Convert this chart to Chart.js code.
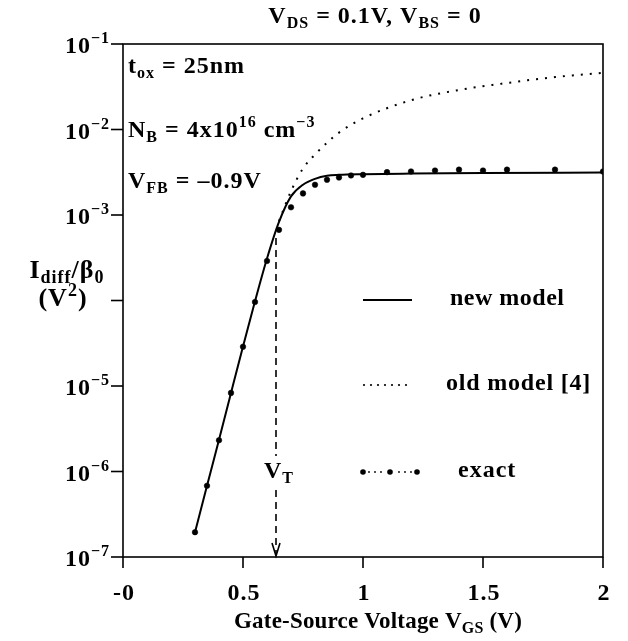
<!DOCTYPE html>
<html><head><meta charset="utf-8">
<script src="https://cdn.jsdelivr.net/npm/chart.js@4/dist/chart.umd.min.js"></script>
<style>html,body{margin:0;padding:0;background:#fff;}#wrap{width:628px;height:641px;}</style>
</head><body><div id="wrap"><canvas id="c" width="628" height="641"></canvas></div>
<script>
// ---- data ----
const newModelV = [0.3, 0.35, 0.4, 0.45, 0.5, 0.55, 0.6, 0.65, 0.7, 0.75, 0.8, 0.85, 0.9, 1.0, 1.2, 1.5, 2.0];
const newModelI = [1.95e-7, 6.8e-7, 2.35e-6, 8.3e-6, 2.9e-5, 9.8e-5, 3.1e-4, 8.3e-4, 1.65e-3, 2.26e-3, 2.65e-3, 2.88e-3, 2.95e-3, 3.0e-3, 3.05e-3, 3.1e-3, 3.14e-3];
const oldModelV = [0.65, 0.7, 0.75, 0.8, 0.85, 0.9, 1.0, 1.2, 1.4, 1.6, 1.8, 2.0];
const oldModelI = [8.5e-4, 1.9e-3, 3.5e-3, 5.1e-3, 7.0e-3, 9.2e-3, 1.35e-2, 2.2e-2, 2.9e-2, 3.5e-2, 4.1e-2, 4.6e-2];
const exactV = [0.3, 0.35, 0.4, 0.45, 0.5, 0.55, 0.6, 0.65, 0.7, 0.75, 0.8, 0.85, 0.9, 0.95, 1.0, 1.1, 1.2, 1.3, 1.4, 1.5, 1.6, 1.8, 2.0];
const exactI = [1.95e-7, 6.8e-7, 2.32e-6, 8.3e-6, 2.88e-5, 9.6e-5, 2.9e-4, 6.7e-4, 1.23e-3, 1.79e-3, 2.26e-3, 2.58e-3, 2.75e-3, 2.9e-3, 2.95e-3, 3.17e-3, 3.23e-3, 3.31e-3, 3.39e-3, 3.31e-3, 3.39e-3, 3.39e-3, 3.23e-3];
const xTickValues = [0, 0.5, 1, 1.5, 2];
const xTickLabels = ['-0', '0.5', '1', '1.5', '2'];
const yTickExponents = [-1, -2, -3, -4, -5, -6, -7];
const yTickLabelShown = [true, true, true, false, true, true, true];
const thresholdV = 0.6375;
const thresholdTopI = 5.4e-4;

const SERIF = '"Liberation Serif", "Times New Roman", serif';
const F = s => 'bold ' + s + 'px ' + SERIF;
const BIG = 24, SMALL = 16;

function drawRich(ctx, parts, x, y, align, ls) {
  ctx.textAlign = 'left'; ctx.textBaseline = 'alphabetic';
  ctx.letterSpacing = (ls === undefined ? 1 : ls) + 'px';
  let w = 0;
  parts.forEach(p => { ctx.font = F(p.s || BIG); w += ctx.measureText(p.t).width; });
  let sx = align === 'center' ? x - w / 2 : align === 'right' ? x - w : x;
  parts.forEach(p => {
    ctx.font = F(p.s || BIG);
    ctx.fillText(p.t, sx, y + (p.dy || 0));
    sx += ctx.measureText(p.t).width;
  });
  ctx.letterSpacing = '0px';
  return w;
}
const sub = (t, s) => ({ t: t, s: s || SMALL, dy: 5 });
const sup = (t, s) => ({ t: t, s: s || SMALL, dy: -10 });

const axesPlugin = {
  id: 'axesPlugin',
  afterDatasetsDraw(chart) {
    const ctx = chart.ctx, xs = chart.scales.x, ys = chart.scales.y;
    const x = xs.getPixelForValue(thresholdV);
    const yTop = ys.getPixelForValue(thresholdTopI);
    const yBot = ys.getPixelForValue(1e-7);
    ctx.save();
    ctx.strokeStyle = '#000'; ctx.lineWidth = 1.6;
    ctx.setLineDash([7, 5]);
    ctx.beginPath(); ctx.moveTo(x, yTop); ctx.lineTo(x, yBot - 2); ctx.stroke();
    ctx.setLineDash([]);
    ctx.beginPath(); ctx.moveTo(x - 4, yBot - 14); ctx.lineTo(x, yBot - 1); ctx.lineTo(x + 4, yBot - 14); ctx.stroke();
    ctx.fillStyle = '#fff';
    ctx.fillRect(x - 16, 456, 36, 30);
    ctx.fillStyle = '#000';
    drawRich(ctx, [{ t: 'V' }, sub('T')], x + 3, 478, 'center');
    ctx.restore();
  },
  afterDraw(chart) {
    const ctx = chart.ctx, a = chart.chartArea, xs = chart.scales.x, ys = chart.scales.y;
    ctx.save();
    ctx.strokeStyle = '#000'; ctx.fillStyle = '#000';
    ctx.lineWidth = 1.6;
    ctx.strokeRect(a.left, a.top, a.right - a.left, a.bottom - a.top);
    yTickExponents.forEach((e, i) => {
      const y = ys.getPixelForValue(Math.pow(10, e));
      ctx.beginPath(); ctx.moveTo(a.left - 12, y); ctx.lineTo(a.left, y); ctx.stroke();
      if (yTickLabelShown[i]) drawRich(ctx, [{ t: '10' }, sup('\u2212' + Math.abs(e))], 110, y + 9, 'right', 1);
    });
    xTickValues.forEach((v, i) => {
      const x = xs.getPixelForValue(v);
      ctx.beginPath(); ctx.moveTo(x, a.bottom); ctx.lineTo(x, a.bottom + 11); ctx.stroke();
      drawRich(ctx, [{ t: xTickLabels[i] }], x + 1, 600, 'center');
    });
    drawRich(ctx, [{ t: 'V' }, sub('DS'), { t: ' = 0.1V, V' }, sub('BS'), { t: ' = 0' }], 375, 23, 'center');
    drawRich(ctx, [{ t: 'Gate-Source Voltage V', s: 23 }, sub('GS'), { t: ' (V)', s: 23 }], 378, 628, 'center', 0.2);
    drawRich(ctx, [{ t: 'I', s: 26 }, sub('diff', 18), { t: '/\u03b2', s: 26 }, sub('0', 18)], 67, 278, 'center', 1);
    drawRich(ctx, [{ t: '(V', s: 26 }, sup('2', 18), { t: ')', s: 26 }], 63, 306, 'center', 1);
    drawRich(ctx, [{ t: 't' }, sub('ox'), { t: ' = 25nm' }], 128, 73, 'left');
    drawRich(ctx, [{ t: 'N' }, sub('B'), { t: ' = 4x10' }, sup('16'), { t: ' cm' }, sup('\u22123')], 128, 137, 'left');
    drawRich(ctx, [{ t: 'V' }, sub('FB'), { t: ' = \u20130.9V' }], 128, 188, 'left');
    ctx.lineWidth = 2;
    ctx.beginPath(); ctx.moveTo(363, 300); ctx.lineTo(412, 300); ctx.stroke();
    drawRich(ctx, [{ t: 'new model' }], 450, 305, 'left', 0.5);
    for (let px = 364; px <= 412; px += 7) { ctx.beginPath(); ctx.arc(px, 385, 1.1, 0, 2 * Math.PI); ctx.fill(); }
    drawRich(ctx, [{ t: 'old model [4]' }], 446, 390, 'left', 0.8);
    for (let px = 363; px <= 418; px += 27) { ctx.beginPath(); ctx.arc(px, 472, 2.8, 0, 2 * Math.PI); ctx.fill(); }
    for (let px = 369; px <= 412; px += 6) { if (Math.abs(px - 390) > 3) { ctx.beginPath(); ctx.arc(px, 472, 0.9, 0, 2 * Math.PI); ctx.fill(); } }
    drawRich(ctx, [{ t: 'exact' }], 458, 477, 'left');
    ctx.restore();
  }
};

new Chart(document.getElementById('c'), {
  type: 'scatter',
  data: {
    datasets: [
      { label: 'new model', data: newModelV.map((v, i) => ({ x: v, y: newModelI[i] })), showLine: true,
        borderColor: '#000', borderWidth: 2, pointRadius: 0, cubicInterpolationMode: 'monotone', fill: false },
      { label: 'old model [4]', data: oldModelV.map((v, i) => ({ x: v, y: oldModelI[i] })), showLine: true,
        borderColor: '#000', borderWidth: 2, borderDash: [2, 7], pointRadius: 0, cubicInterpolationMode: 'monotone', fill: false },
      { label: 'exact', data: exactV.map((v, i) => ({ x: v, y: exactI[i] })), showLine: false,
        pointRadius: 2.8, pointBackgroundColor: '#000', pointBorderColor: '#000', pointBorderWidth: 0.5 }
    ]
  },
  options: {
    responsive: false, animation: false, devicePixelRatio: 1,
    layout: { padding: { left: 123, right: 25, top: 44, bottom: 84 } },
    scales: {
      x: { type: 'linear', min: 0, max: 2, display: false },
      y: { type: 'logarithmic', min: 1e-7, max: 1e-1, display: false }
    },
    plugins: { legend: { display: false }, tooltip: { enabled: false } }
  },
  plugins: [axesPlugin]
});
</script>
</body></html>
